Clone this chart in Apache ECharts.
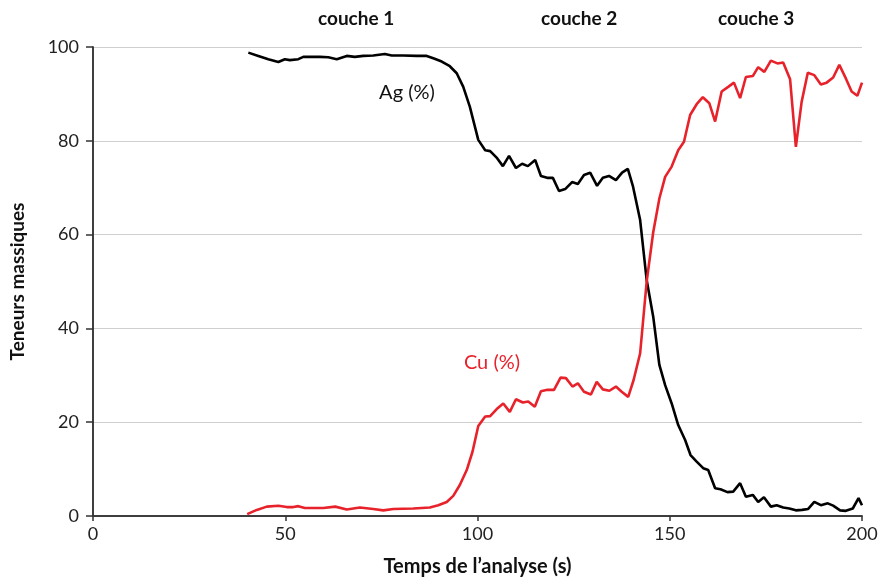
<!DOCTYPE html>
<html><head><meta charset="utf-8">
<script src="https://cdn.jsdelivr.net/npm/echarts@6/dist/echarts.min.js"></script>
<style>html,body{margin:0;padding:0;background:#fff}#c{width:880px;height:577px}</style>
</head><body><div id="c"></div>
<script>
var agTime = [40.4,43.0,45.6,48.2,49.9,51.2,53.4,54.7,56.9,59.0,61.2,63.4,66.0,68.1,70.3,72.9,75.9,77.7,80.7,84.2,86.8,88.5,90.7,92.8,94.6,96.3,98.0,100.2,102.0,103.3,105.1,106.6,108.2,110.0,111.6,113.1,115.0,116.5,118.1,119.6,121.2,122.8,124.6,126.1,127.7,129.3,131.1,132.6,134.2,136.0,137.6,139.1,140.4,142.3,144.0,145.7,147.3,148.8,150.5,152.2,154.0,155.4,157.0,158.7,160.0,161.8,163.2,165.0,166.5,168.3,169.8,171.6,173.0,174.5,176.3,177.8,179.5,181.1,182.8,184.4,186.0,187.6,189.3,191.1,192.5,194.3,195.8,197.6,199.1,200.0];
var agValues = [98.8,98.1,97.4,96.8,97.4,97.2,97.4,97.9,97.9,97.9,97.8,97.4,98.1,97.9,98.1,98.2,98.5,98.2,98.2,98.1,98.1,97.6,96.9,95.9,94.4,91.5,87.3,80.2,78.0,77.8,76.3,74.6,76.8,74.2,75.1,74.6,75.9,72.5,72.1,72.1,69.3,69.7,71.2,70.8,72.7,73.2,70.4,72.1,72.5,71.6,73.2,74.0,70.4,63.1,50.3,42.5,32.2,27.9,24.0,19.4,16.2,13.0,11.6,10.2,9.8,5.9,5.7,5.1,5.2,7.0,4.1,4.5,3.0,4.0,2.0,2.3,1.8,1.6,1.2,1.3,1.5,3.0,2.3,2.7,2.2,1.2,1.1,1.6,3.8,2.3];
var cuTime = [40.1,42.6,45.2,48.2,50.4,52.1,53.4,55.1,59.9,63.0,66.0,69.4,72.9,75.5,78.1,83.3,87.6,89.8,92.0,93.7,95.4,97.2,98.7,100.2,102.0,103.3,105.0,106.7,108.4,110.0,111.8,113.2,114.9,116.5,118.2,119.9,121.6,123.0,124.7,126.1,127.7,129.5,131.0,132.6,134.3,136.0,137.5,139.2,140.6,142.3,144.0,145.7,147.3,148.8,150.5,152.2,153.7,155.3,157.0,158.6,160.3,161.8,163.5,165.2,166.7,168.3,169.8,171.6,173.0,174.6,176.3,178.0,179.5,181.3,182.8,184.3,185.9,187.6,189.3,190.8,192.5,194.1,195.8,197.3,198.8,200.0];
var cuValues = [0.4,1.3,2.0,2.2,1.9,1.9,2.1,1.7,1.7,2.0,1.4,1.8,1.5,1.2,1.5,1.6,1.8,2.3,3.0,4.3,6.6,9.8,13.7,19.2,21.2,21.3,22.8,24.0,22.2,24.9,24.2,24.4,23.3,26.6,26.9,26.9,29.5,29.4,27.6,28.3,26.5,25.9,28.6,27.0,26.7,27.6,26.5,25.4,29.0,34.7,50.0,60.5,67.7,72.3,74.5,78.0,79.8,85.5,87.8,89.3,88.0,84.1,90.5,91.5,92.4,89.1,93.6,93.8,95.7,94.7,97.1,96.5,96.7,93.1,78.7,88.3,94.5,94.0,92.0,92.4,93.5,96.2,93.3,90.5,89.6,92.4];
var xTicks = [0,50,100,150,200];
var yTicks = [0,20,40,60,80,100];
var layerLabels = ['couche 1','couche 2','couche 3'];
var seriesNames = ['Ag (%)','Cu (%)'];

function pairs(t,v){return t.map(function(x,i){return [x,v[i]];});}
var FONT = 'Lato';
var RED = '#e8222b';
var chart = echarts.init(document.getElementById('c'));
chart.setOption({
  animation:false,
  backgroundColor:'#fff',
  textStyle:{fontFamily:FONT},
  grid:{left:93,right:18,top:47,bottom:61,show:false,containLabel:false,outerBoundsMode:'none'},
  xAxis:[{
    type:'value',min:xTicks[0],max:xTicks[xTicks.length-1],interval:50,
    name:'Temps de l\u2019analyse (s)',nameLocation:'middle',nameGap:41,
    nameTextStyle:{fontWeight:'bold',fontSize:20,color:'#111',fontFamily:FONT},
    axisLine:{lineStyle:{color:'#333',width:1.5}},
    axisTick:{show:true,length:5,lineStyle:{color:'#333',width:1.5}},
    axisLabel:{fontSize:18,color:'#222',margin:9},
    splitLine:{show:false}
  },{
    type:'value',position:'top',min:0,max:200,
    axisLine:{show:true,lineStyle:{color:'#333',width:1.5}},
    axisTick:{show:false},axisLabel:{show:false},splitLine:{show:false}
  }],
  yAxis:[{
    type:'value',min:yTicks[0],max:yTicks[yTicks.length-1],interval:20,
    name:'Teneurs massiques',nameLocation:'middle',nameGap:66,nameRotate:90,
    nameTextStyle:{fontWeight:'bold',fontSize:19,color:'#111',fontFamily:FONT},
    axisLine:{show:true,lineStyle:{color:'#333',width:1.5}},
    axisTick:{show:true,length:7,lineStyle:{color:'#333',width:1.5}},
    axisLabel:{fontSize:18,color:'#222',margin:14},
    splitLine:{show:true,lineStyle:{color:'#cfcfcf',width:1.2}}
  },{
    type:'value',position:'right',min:0,max:100,
    axisLine:{show:true,lineStyle:{color:'#333',width:1.5}},
    axisTick:{show:false},axisLabel:{show:false},splitLine:{show:false}
  }],
  series:[{
    name:seriesNames[0],type:'line',data:pairs(agTime,agValues),
    showSymbol:false,lineStyle:{color:'#000',width:2.6},z:3
  },{
    name:seriesNames[1],type:'line',data:pairs(cuTime,cuValues),
    showSymbol:false,lineStyle:{color:RED,width:2.6},z:4
  }],
  graphic:[
    {type:'text',left:318,top:9,style:{text:layerLabels[0],font:'bold 19px '+FONT,fill:'#111'}},
    {type:'text',left:541,top:9,style:{text:layerLabels[1],font:'bold 19px '+FONT,fill:'#111'}},
    {type:'text',left:718,top:9,style:{text:layerLabels[2],font:'bold 19px '+FONT,fill:'#111'}},
    {type:'text',x:407,y:93,style:{text:seriesNames[0],font:'20px '+FONT,fill:'#111',align:'center',verticalAlign:'middle'}},
    {type:'text',x:492,y:363,style:{text:seriesNames[1],font:'20px '+FONT,fill:RED,align:'center',verticalAlign:'middle'}}
  ]
});
</script></body></html>
